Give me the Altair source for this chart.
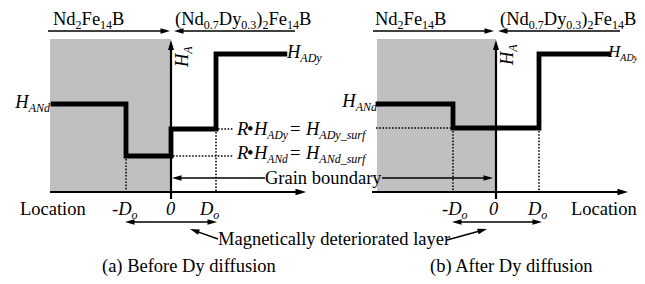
import math
import altair as alt
import pandas as pd

# ---------------- data (schematic values) ----------------
# Location in units of D_o, H_A in arbitrary units (pixels above the Location axis)
LOC_A = [-2.62, -1, -1, 0, 0, 1, 1, 2.53]
HA_A = [88, 88, 36, 36, 63, 63, 138, 138]
LOC_B = [-2.74, -1, -1, 1, 1, 2.6]
HA_B = [88, 88, 64, 64, 138, 138]
H_AND = 88
H_ADY = 138
H_ADY_SURF_A = 63
H_AND_SURF_A = 36
H_SURF_B = 64

# panel frames (origin of Location axis, size of D_o)
PANEL = {"a": (171, 45), "b": (496, 43)}
Y0 = 192


def px(p, loc):
    x0, d = PANEL[p]
    return x0 + loc * d


def py(h):
    return Y0 - h


# ---------------- text layout helpers ----------------
W_R = {" ": .25, "(": .333, ")": .333, ".": .25, "N": .722, "d": .5, "F": .556, "e": .444,
       "B": .667, "D": .722, "y": .5, "=": .564, "•": .35, "-": .333, "L": .611, "o": .5,
       "c": .444, "a": .444, "t": .278, "i": .278, "n": .5, "G": .722, "r": .333, "b": .5,
       "u": .5, "M": .889, "g": .5, "l": .278, "f": .333, "s": .389}
W_I = {" ": .25, "H": .722, "A": .611, "N": .667, "d": .5, "D": .722, "y": .444, "_": .5,
       "s": .389, "u": .5, "r": .389, "f": .278, "R": .611, "o": .5, "-": .333, "0": .5, "•": .35}
MAIN, SUB, SUBDY = 18.5, 12, 4

texts = []


def run(x, y, parts, angle=0, anchor="left", main=MAIN, sub_size=SUB):
    info = []
    for t, st in parts:
        sub = st.endswith("s")
        ital = st.startswith("i")
        size = sub_size if sub else main
        tbl = W_I if ital else W_R
        w = sum(tbl.get(c, .5) for c in t) * size
        info.append((t, sub, ital, size, w))
    total = sum(i[4] for i in info)
    if angle == 0:
        pos = x - total if anchor == "right" else x
        for t, sub, ital, size, w in info:
            texts.append(dict(x=pos, y=y + (SUBDY if sub else 0), t=t, size=size,
                              ital=ital, ang=0))
            pos += w
    else:  # 270: reads bottom to top
        pos = y
        for t, sub, ital, size, w in info:
            texts.append(dict(x=x + (SUBDY if sub else 0), y=pos, t=t, size=size,
                              ital=ital, ang=270))
            pos -= w


NDFEB = [("Nd", "r"), ("2", "rs"), ("Fe", "r"), ("14", "rs"), ("B", "r")]
NDDY = [("(Nd", "r"), ("0.7", "rs"), ("Dy", "r"), ("0.3", "rs"), (")", "r"), ("2", "rs"),
        ("Fe", "r"), ("14", "rs"), ("B", "r")]

# panel a
run(53, 25, NDFEB)
run(175, 25, NDDY)
run(188, 67, [("H", "i"), ("A", "is")], angle=270)
run(50, py(H_AND) + 4, [("H", "i"), ("ANd", "is")], anchor="right")
run(287, py(H_ADY) + 4, [("H", "i"), ("ADy", "is")])
run(237, 135, [("R", "i")])
run(247, 135, [("•", "r")])
run(254, 135, [("H", "i"), ("ADy", "is")], sub_size=11.5)
run(290, 135, [("=", "r")])
run(306, 135, [("H", "i"), ("ADy_surf", "is")])
run(237, 159, [("R", "i")])
run(247, 159, [("•", "r")])
run(254, 159, [("H", "i"), ("ANd", "is")], sub_size=11.5)
run(290, 159, [("=", "r")])
run(306, 159, [("H", "i"), ("ANd_surf", "is")])
run(265, 184, [("Grain boundary", "r")])
run(20, 215, [("Location", "r")])
run(112, 215, [("-D", "i"), ("o", "is")])
run(166, 215, [("0", "i")])
run(200, 215, [("D", "i"), ("o", "is")])
run(218, 245, [("Magnetically deteriorated layer", "r")])
run(102, 272, [("(a) Before Dy diffusion", "r")])

# panel b
run(375, 25, NDFEB)
run(500, 25, NDDY)
run(513, 65, [("H", "i"), ("A", "is")], angle=270)
run(377, py(H_AND) + 3, [("H", "i"), ("ANd", "is")], anchor="right")
run(608, py(H_ADY) + 3, [("H", "i"), ("ADy", "is")], main=17, sub_size=10)
run(442, 215, [("-D", "i"), ("o", "is")])
run(489, 215, [("0", "i")])
run(528, 215, [("D", "i"), ("o", "is")])
run(571, 215, [("Location", "r")])
run(430, 272, [("(b) After Dy diffusion", "r")])

df_text = pd.DataFrame(texts)

# ---------------- shapes ----------------
rects = pd.DataFrame([
    dict(x=50, x2=171, y=39, y2=Y0),
    dict(x=377, x2=496, y=39, y2=Y0),
])

steps = pd.DataFrame(
    [dict(p="a", i=i, x=px("a", l), y=py(h)) for i, (l, h) in enumerate(zip(LOC_A, HA_A))]
    + [dict(p="b", i=i, x=px("b", l), y=py(h)) for i, (l, h) in enumerate(zip(LOC_B, HA_B))]
)

dots = pd.DataFrame([
    dict(x=px("a", -1), y=py(H_AND_SURF_A) + 3, x2=px("a", -1), y2=Y0),
    dict(x=px("a", 1), y=py(H_ADY_SURF_A) + 3, x2=px("a", 1), y2=Y0),
    dict(x=px("a", 1) + 2, y=py(H_ADY_SURF_A), x2=233, y2=py(H_ADY_SURF_A)),
    dict(x=px("a", 0) + 2, y=py(H_AND_SURF_A), x2=233, y2=py(H_AND_SURF_A)),
    dict(x=376, y=py(H_SURF_B), x2=px("b", -1), y2=py(H_SURF_B)),
    dict(x=px("b", -1), y=py(H_SURF_B) + 3, x2=px("b", -1), y2=Y0),
    dict(x=px("b", 1), y=py(H_SURF_B) + 3, x2=px("b", 1), y2=Y0),
])

thin_lines, thick_lines, heads = [], [], []


def arrow(x1, y1, x2, y2, store, head=90):
    L = math.hypot(x2 - x1, y2 - y1)
    ux, uy = (x2 - x1) / L, (y2 - y1) / L
    hl = math.sqrt(head) / 2
    cx, cy = x2 - ux * hl, y2 - uy * hl
    store.append(dict(x=x1, y=y1, x2=cx, y2=cy))
    heads.append(dict(x=cx, y=cy, ang=math.degrees(math.atan2(ux, -uy)) % 360, s=head))


# top material arrows
arrow(48, 31, 170, 31, thin_lines)
arrow(295, 31, 174, 31, thin_lines)
arrow(373, 31, 494, 31, thin_lines)
arrow(620, 31, 498, 31, thin_lines)
# grain boundary
arrow(265, 178, 172, 178, thin_lines)
arrow(382, 178, 493, 178, thin_lines)
# double arrows (deteriorated layer)
arrow(171, 222, 125, 222, thin_lines)
arrow(171, 222, 217, 222, thin_lines)
arrow(497, 222, 452, 222, thin_lines)
arrow(497, 222, 542, 222, thin_lines)
# pointer arrows
arrow(218, 239, 190, 229, thin_lines)
arrow(447, 240, 487, 229, thin_lines)
# axes
arrow(50, Y0, 306, Y0, thick_lines, head=110)
arrow(171, 199, 171, 40, thick_lines, head=100)
arrow(372, Y0, 628, Y0, thick_lines, head=110)
arrow(496, 199, 496, 40, thick_lines, head=100)

df_thin = pd.DataFrame(thin_lines)
df_thick = pd.DataFrame(thick_lines)
df_heads = pd.DataFrame(heads)

# ---------------- chart ----------------
XS = alt.Scale(domain=[8, 637], nice=False, zero=False)
YS = alt.Scale(domain=[8, 276], nice=False, zero=False, reverse=True)


def X(f="x"):
    return alt.X(f"{f}:Q", scale=XS, axis=None)


def Y(f="y"):
    return alt.Y(f"{f}:Q", scale=YS, axis=None)


gray = alt.Chart(rects).mark_rect(color="#c0c0c0").encode(
    x=X(), x2="x2:Q", y=Y(), y2="y2:Q")

dotted = alt.Chart(dots).mark_rule(color="black", strokeWidth=1.5, strokeDash=[1.6, 1.6]).encode(
    x=X(), x2="x2:Q", y=Y(), y2="y2:Q")

thin = alt.Chart(df_thin).mark_rule(color="black", strokeWidth=1.4).encode(
    x=X(), x2="x2:Q", y=Y(), y2="y2:Q")

thick = alt.Chart(df_thick).mark_rule(color="black", strokeWidth=2.2).encode(
    x=X(), x2="x2:Q", y=Y(), y2="y2:Q")

profile = alt.Chart(steps).mark_line(color="black", strokeWidth=4.8, strokeJoin="miter",
                                     strokeCap="square").encode(
    x=X(), y=Y(), detail="p:N", order="i:Q")

arrowheads = alt.Chart(df_heads).mark_point(
    shape="M-0.6,1L0,-1L0.6,1Z", filled=True, color="black", opacity=1, strokeWidth=0).encode(
    x=X(), y=Y(), angle=alt.Angle("ang:Q", scale=None), size=alt.Size("s:Q", scale=None))

txt_r = alt.Chart(df_text[~df_text.ital]).mark_text(
    font="Liberation Serif", align="left", baseline="alphabetic", color="black").encode(
    x=X(), y=Y(), text="t:N", size=alt.Size("size:Q", scale=None),
    angle=alt.Angle("ang:Q", scale=None))

txt_i = alt.Chart(df_text[df_text.ital]).mark_text(
    font="Liberation Serif", fontStyle="italic", align="left", baseline="alphabetic",
    color="black").encode(
    x=X(), y=Y(), text="t:N", size=alt.Size("size:Q", scale=None),
    angle=alt.Angle("ang:Q", scale=None))

chart = alt.layer(gray, dotted, thin, thick, profile, arrowheads, txt_r, txt_i).properties(
    width=629, height=268, padding=0, autosize=alt.AutoSizeParams(type="none"),
    background="white"
).configure_view(stroke=None)

chart.save("out.html", embed_options={"renderer": "svg", "actions": False})
